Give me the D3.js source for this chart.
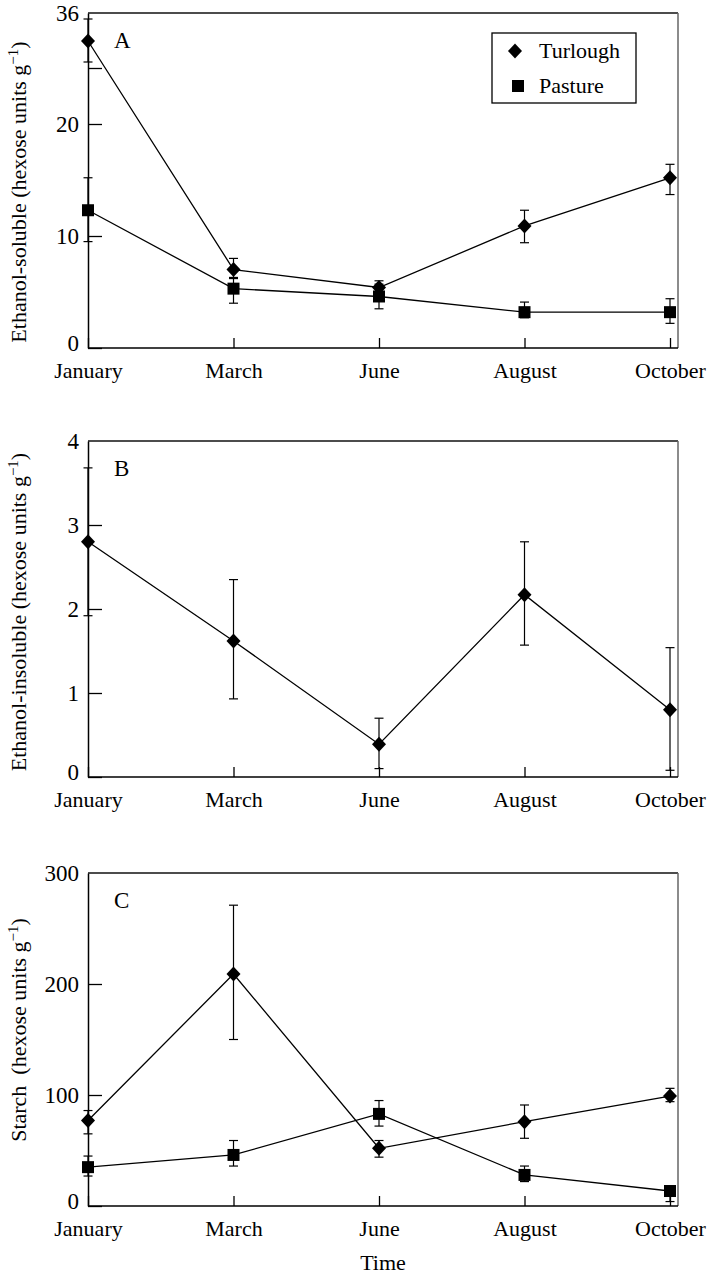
<!DOCTYPE html>
<html>
<head>
<meta charset="utf-8">
<script src="https://cdn.jsdelivr.net/npm/d3@7"></script>
<style>
  body { margin: 0; background: #fff; }
  svg text { font-family: "Liberation Serif", "Times New Roman", serif; fill: #000; }
</style>
</head>
<body>
<div id="chart"></div>
<script>
// data
var months = ["January", "March", "June", "August", "October"];

// A: ethanol-soluble
var solTurlough   = [30.4, 7.0, 5.4, 10.9, 15.2];
var solTurloughLo = [26.2, 6.2, 4.9, 9.4, 13.7];
var solTurloughHi = [34.8, 8.0, 6.0, 12.3, 16.4];
var solPasture    = [12.3, 5.3, 4.6, 3.2, 3.2];
var solPastureLo  = [9.5, 4.0, 3.5, 2.7, 2.2];
var solPastureHi  = [15.2, 6.3, 5.7, 4.1, 4.4];

// B: ethanol-insoluble
var insTurlough   = [2.8, 1.62, 0.39, 2.17, 0.8];
var insTurloughLo = [1.92, 0.93, 0.1, 1.57, 0.08];
var insTurloughHi = [3.68, 2.35, 0.7, 2.8, 1.54];

// C: starch
var stTurlough   = [77, 209, 52, 76, 99];
var stTurloughLo = [65, 150, 44, 61, 94];
var stTurloughHi = [86, 271, 59, 91, 106];
var stPasture    = [35, 46, 83, 28, 13.5];
var stPastureLo  = [27, 36, 72, 22, 4];
var stPastureHi  = [45, 59, 95, 36, 17];

var ticksA = [0, 10, 20, 36];
var ticksB = [0, 1, 2, 3, 4];
var ticksC = [0, 100, 200, 300];

var width = 713, height = 1280;
var left = 88, right = 678;

var svg = d3.select("#chart").append("svg")
    .attr("width", width)
    .attr("height", height);

var x = d3.scalePoint()
    .domain(months)
    .range([left, 670]);

var panels = [
    {
        label: "A", top: 13, bottom: 348,
        // broken axis: 0-25 linear, then compressed up to 36
        domain: [0, 25, 36],
        ticks: ticksA, extraTicks: [25],
        title: ["Ethanol-soluble (hexose units g", "−1", ")"], titleY: 192,
        series: [
            {shape: "diamond", v: solTurlough, lo: solTurloughLo, hi: solTurloughHi},
            {shape: "square", v: solPasture, lo: solPastureLo, hi: solPastureHi}
        ]
    },
    {
        label: "B", top: 441, bottom: 777,
        domain: [0, 4], ticks: ticksB, extraTicks: [],
        title: ["Ethanol-insoluble (hexose units g", "−1", ")"], titleY: 612,
        series: [
            {shape: "diamond", v: insTurlough, lo: insTurloughLo, hi: insTurloughHi}
        ]
    },
    {
        label: "C", top: 873, bottom: 1206,
        domain: [0, 300], ticks: ticksC, extraTicks: [],
        title: ["Starch  (hexose units g", "−1", ")"], titleY: 1030,
        series: [
            {shape: "diamond", v: stTurlough, lo: stTurloughLo, hi: stTurloughHi},
            {shape: "square", v: stPasture, lo: stPastureLo, hi: stPastureHi}
        ]
    }
];

function marker(g, shape, cx, cy) {
    if (shape == "diamond") {
        g.append("path")
            .attr("d", "M" + cx + "," + (cy - 7.5) + "L" + (cx + 7) + "," + cy +
                "L" + cx + "," + (cy + 7.5) + "L" + (cx - 7) + "," + cy + "Z")
            .attr("fill", "#000");
    } else {
        g.append("rect")
            .attr("x", cx - 6).attr("y", cy - 6)
            .attr("width", 12).attr("height", 12)
            .attr("fill", "#000");
    }
}

panels.forEach(function(p) {
    var y;
    if (p.domain.length == 3) {
        y = d3.scaleLinear()
            .domain(p.domain)
            .range([p.bottom, 68, p.top]);
    } else {
        y = d3.scaleLinear()
            .domain(p.domain)
            .range([p.bottom, p.top]);
    }

    var g = svg.append("g");

    // frame: top and right
    g.append("line")
        .attr("x1", left).attr("x2", right)
        .attr("y1", p.top).attr("y2", p.top)
        .attr("stroke", "#111").attr("stroke-width", 1.5);
    g.append("line")
        .attr("x1", right).attr("x2", right)
        .attr("y1", p.top).attr("y2", p.bottom)
        .attr("stroke", "#666").attr("stroke-width", 1.5);

    // y axis
    var yAxis = g.append("g")
        .attr("transform", "translate(" + left + ",0)")
        .call(d3.axisLeft(y)
            .tickValues(p.ticks.concat(p.extraTicks))
            .tickFormat(function(d) { return p.extraTicks.indexOf(d) >= 0 ? "" : d; })
            .tickSizeInner(-14)
            .tickSizeOuter(0)
            .tickPadding(9));
    yAxis.select(".domain").attr("stroke", "#000").attr("stroke-width", 1.5);
    yAxis.selectAll(".tick line").attr("stroke", "#000").attr("stroke-width", 1.3);
    yAxis.selectAll(".tick text")
        .attr("font-size", 23)
        .attr("font-family", "Liberation Serif");
    // zero label sits a little higher, clear of the month names
    yAxis.selectAll(".tick")
        .filter(function(d) { return d == 0; })
        .select("text").attr("dy", "0.1em");
    // top labels sit at the frame
    yAxis.selectAll(".tick")
        .filter(function(d) { return d == p.domain[p.domain.length - 1]; })
        .select("line").remove();

    // x axis
    var xAxis = g.append("g")
        .attr("transform", "translate(0," + p.bottom + ")")
        .call(d3.axisBottom(x)
            .tickSizeInner(-10)
            .tickSizeOuter(0)
            .tickPadding(14));
    xAxis.select(".domain").attr("stroke", "#000").attr("stroke-width", 1.5)
        .attr("d", "M" + left + ",0H" + right);
    xAxis.selectAll(".tick line").attr("stroke", "#000").attr("stroke-width", 1.3);
    xAxis.selectAll(".tick text")
        .attr("font-size", 22)
        .attr("font-family", "Liberation Serif");

    // panel letter
    g.append("text")
        .attr("x", 114)
        .attr("y", p.top + 35)
        .attr("font-size", 23)
        .text(p.label);

    // y title
    var t = g.append("text")
        .attr("transform", "translate(26," + p.titleY + ") rotate(-90)")
        .attr("text-anchor", "middle")
        .attr("font-size", 22)
        .attr("xml:space", "preserve")
        .style("white-space", "pre");
    t.append("tspan").text(p.title[0]);
    t.append("tspan").attr("dy", -8).attr("font-size", 15).text(p.title[1]);
    t.append("tspan").attr("dy", 8).text(p.title[2]);

    p.series.forEach(function(s) {
        var line = d3.line()
            .x(function(d, i) { return x(months[i]); })
            .y(function(d) { return y(d); });

        g.append("path")
            .datum(s.v)
            .attr("d", line)
            .attr("fill", "none")
            .attr("stroke", "#000")
            .attr("stroke-width", 1.3);

        // error bars
        s.v.forEach(function(d, i) {
            var cx = x(months[i]);
            g.append("line")
                .attr("x1", cx).attr("x2", cx)
                .attr("y1", y(s.lo[i])).attr("y2", y(s.hi[i]))
                .attr("stroke", "#000").attr("stroke-width", 1.2);
            [s.lo[i], s.hi[i]].forEach(function(e) {
                g.append("line")
                    .attr("x1", cx - 4.5).attr("x2", cx + 4.5)
                    .attr("y1", y(e)).attr("y2", y(e))
                    .attr("stroke", "#000").attr("stroke-width", 1.2);
            });
        });

        s.v.forEach(function(d, i) {
            marker(g, s.shape, x(months[i]), y(d));
        });
    });
});

// legend in panel A
var legend = svg.append("g");
legend.append("rect")
    .attr("x", 492).attr("y", 33)
    .attr("width", 144).attr("height", 70)
    .attr("fill", "#fff")
    .attr("stroke", "#000").attr("stroke-width", 1.3);
marker(legend, "diamond", 515, 51);
legend.append("text").attr("x", 539).attr("y", 58).attr("font-size", 22).text("Turlough");
marker(legend, "square", 518, 86);
legend.append("text").attr("x", 539).attr("y", 93).attr("font-size", 22).text("Pasture");

// x title
svg.append("text")
    .attr("x", (left + right) / 2)
    .attr("y", 1270)
    .attr("text-anchor", "middle")
    .attr("font-size", 22)
    .text("Time");
</script>
</body>
</html>
